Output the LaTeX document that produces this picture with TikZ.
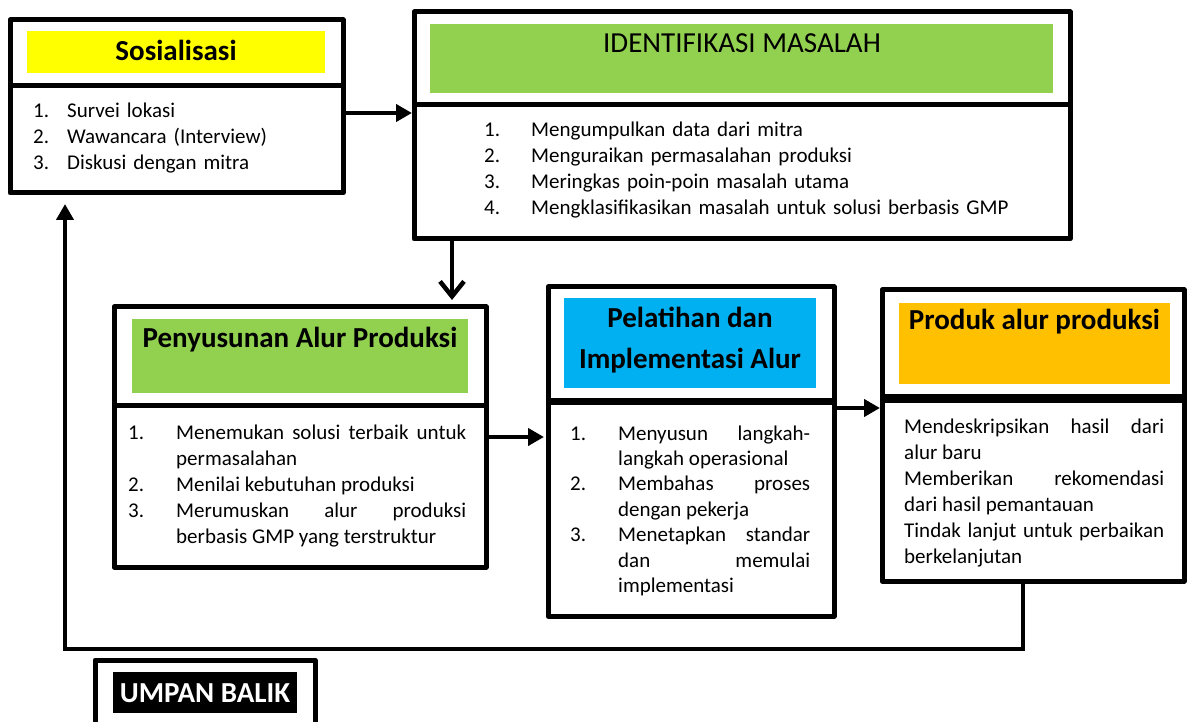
\documentclass[tikz,border=0pt]{standalone}
\usepackage{fontspec}
\setmainfont{Carlito}
\usetikzlibrary{arrows.meta,calc}
\hyphenpenalty=10000
\tolerance=9999
\hbadness=10000
\newlength\itmind
\newcommand\itm[2]{\noindent\hangindent=\itmind\hangafter=1\makebox[\itmind][l]{#1}#2\par}
\definecolor{cyel}{HTML}{FFFF00}
\definecolor{cgrn}{HTML}{92D050}
\definecolor{cblu}{HTML}{00B0F0}
\definecolor{corg}{HTML}{FFC000}
\tikzset{
 panel/.style={draw=black, line width=5pt, rectangle, inner sep=0pt, outer sep=0pt, anchor=north west, line join=round},
 band/.style={rectangle, inner sep=0pt, outer sep=0pt, anchor=north west},
 ttl/.style={font=\fontsize{29}{41}\selectfont\bfseries, anchor=base, inner sep=0pt},
 lst/.style={font=\fontsize{21}{26}\selectfont, anchor=base west, inner sep=0pt, align=left},
 jst/.style={font=\fontsize{21}{26}\selectfont, anchor=base west, inner sep=0pt, align=justify},
 arr/.style={line width=4.5pt, -{Triangle[length=16pt,width=17pt]}},
 arrv/.style={line width=4.5pt, -{Straight Barb[length=15pt,width=24pt]}},
}
\begin{document}
\begin{tikzpicture}[x=1pt,y=-1pt]
\useasboundingbox (0,0) rectangle (1187,722);
\clip (0,0) rectangle (1187,722);
\fill[white] (0,0) rectangle (1187,722);

% fills
\node[band, fill=cyel, minimum width=298, minimum height=42] (f1) at (27,31) {};
\node[band, fill=cgrn, minimum width=623, minimum height=69] (f2) at (430,24) {};
\node[band, fill=cgrn, minimum width=336, minimum height=74] (f3) at (132,319) {};
\node[band, fill=cblu, minimum width=252, minimum height=90] (f4) at (564,298) {};
\node[band, fill=corg, minimum width=271, minimum height=81] (f5) at (899,303) {};
\node[band, fill=black, minimum width=184, minimum height=41] (fu) at (113,672) {};

% panels
\node[panel, minimum width=333, minimum height=66] (h1) at (10,20) {};
\node[panel, minimum width=333, minimum height=107] (b1) at (10,86) {};
\node[panel, minimum width=656, minimum height=93] (h2) at (414,12) {};
\node[panel, minimum width=656, minimum height=134] (b2) at (414,105) {};
\node[panel, minimum width=372, minimum height=98] (h3) at (114,307) {};
\node[panel, minimum width=372, minimum height=162] (b3) at (114,405) {};
\node[panel, minimum width=286, minimum height=114] (h4) at (548,287) {};
\node[panel, minimum width=286, minimum height=215] (b4) at (548,401) {};
\node[panel, minimum width=302, minimum height=108] (h5) at (882,290) {};
\node[panel, minimum width=302, minimum height=183] (b5) at (882,398) {};
\node[panel, minimum width=220, minimum height=80] (ub) at (95,660) {};
\draw[line width=7pt] (h4.south west) -- (h4.south east);
\draw[line width=9pt] (h5.south west) -- (h5.south east);

% titles
\node[ttl] (t1) at (176,61) {Sosialisasi};
\node[ttl, font=\fontsize{29}{41}\selectfont\mdseries] (t2) at (742,53) {IDENTIFIKASI MASALAH};
\node[ttl] (t3) at (300,347) {Penyusunan Alur Produksi};
\node[ttl] (t4a) at (690,327) {Pelatihan dan};
\node[ttl] (t4b) at (690,368) {Implementasi Alur};
\node[ttl] (t5) at (1034.5,330) {Produk alur produksi};
\node[ttl, text=white] (tu) at (205,702) {UMPAN BALIK};

% lists
\node[lst, text width=300pt] (l1) at (33,118) {\setlength\itmind{34pt}%
\itm{1.}{Survei lokasi}\itm{2.}{Wawancara (Interview)}\itm{3.}{Diskusi dengan mitra}};
\node[lst, text width=580pt] (l2) at (484,137) {\setlength\itmind{47pt}%
\itm{1.}{Mengumpulkan data dari mitra}\itm{2.}{Menguraikan permasalahan produksi}\itm{3.}{Meringkas poin-poin masalah utama}\itm{4.}{Mengklasifikasikan masalah untuk solusi berbasis GMP}};
\node[jst, text width=338pt] (l3) at (128,439) {\setlength\itmind{48pt}%
\itm{1.}{Menemukan solusi terbaik untuk\linebreak permasalahan}\itm{2.}{Menilai kebutuhan produksi}\itm{3.}{Merumuskan alur produksi\linebreak berbasis GMP yang terstruktur}};
\node[jst, text width=240pt, font=\fontsize{21}{25.4}\selectfont] (l4) at (570,440) {\setlength\itmind{48pt}%
\itm{1.}{Menyusun langkah-\linebreak langkah operasional}\itm{2.}{Membahas proses\linebreak dengan pekerja}\itm{3.}{Menetapkan standar\linebreak dan memulai\linebreak implementasi}};
\node[jst, text width=260pt] (l5) at (904,433) {Mendeskripsikan hasil dari\linebreak alur baru\par Memberikan rekomendasi\linebreak dari hasil pemantauan\par Tindak lanjut untuk perbaikan\linebreak berkelanjutan};

% connectors
\coordinate (a1y) at (0,113);
\coordinate (a2x) at (452,0);
\coordinate (a3y) at (0,437);
\coordinate (a4y) at (0,408);
\coordinate (fb1) at (1023,649);
\coordinate (fb2) at (65,649);
\draw[arr, shorten >=2pt] (b1.east |- a1y) -- (b2.west |- a1y);
\draw[arrv, shorten >=7pt] (b2.south -| a2x) -- (h3.north -| a2x);
\draw[arr, shorten >=4pt] (b3.east |- a3y) -- (b4.west |- a3y);
\draw[arr, shorten >=2pt] (b4.east |- a4y) -- (b5.west |- a4y);
\draw[arr, line join=miter, shorten >=11pt] (b5.south -| fb1) -- (fb1) -- (fb2) -- (b1.south -| fb2);
\end{tikzpicture}
\end{document}
